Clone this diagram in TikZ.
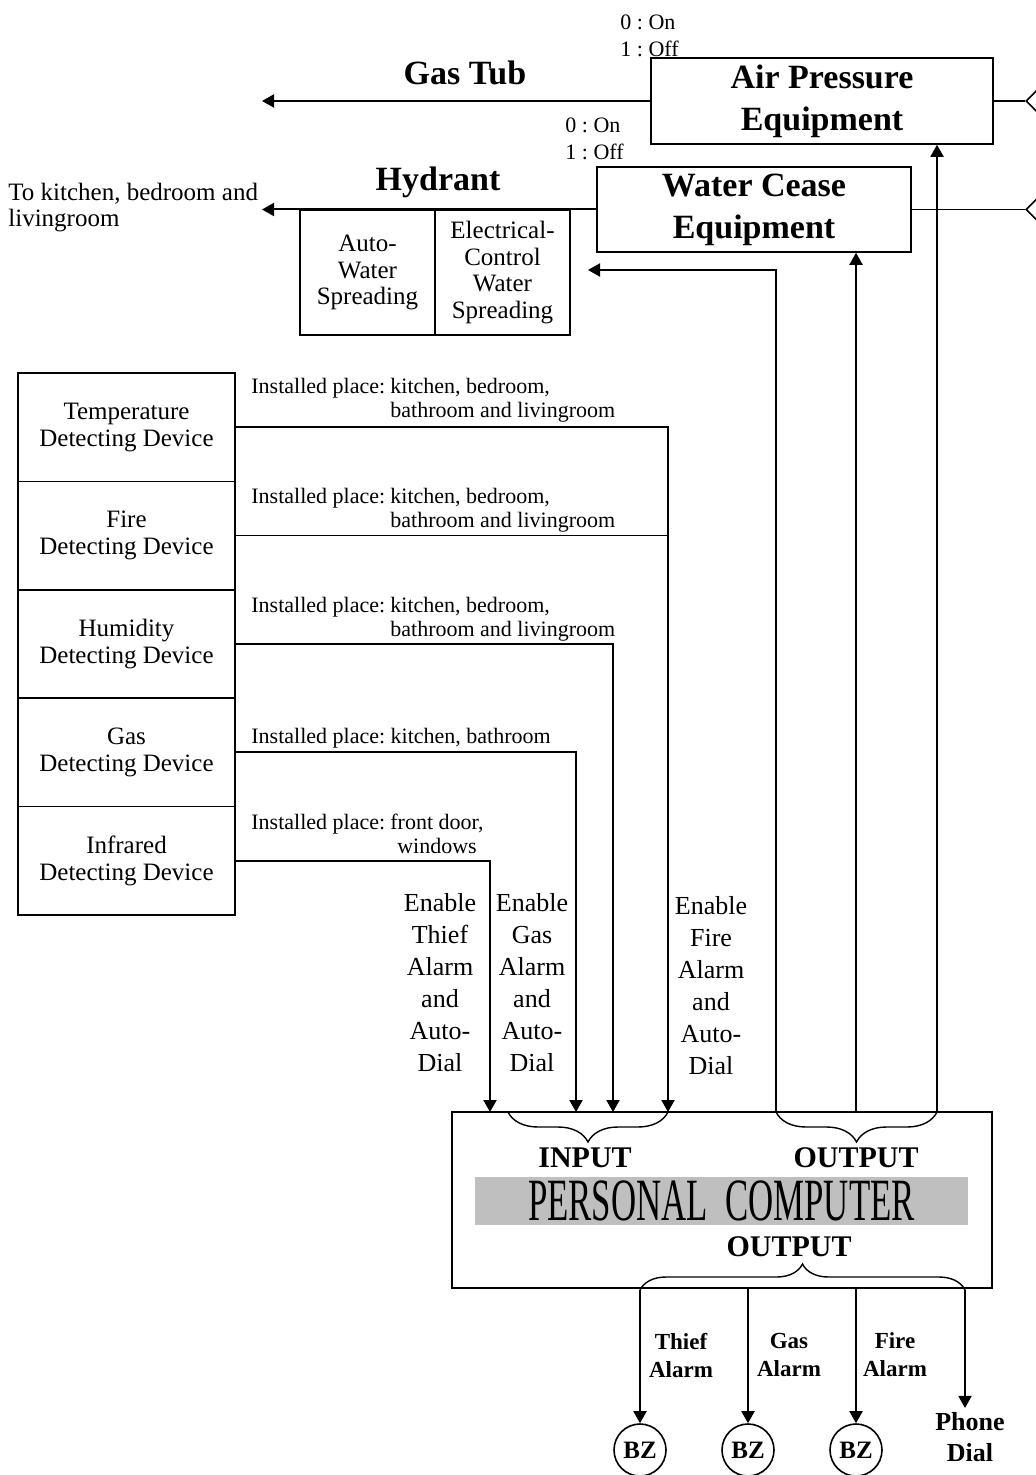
\documentclass[tikz,border=0pt]{standalone}
\usepackage{fontspec}
\setmainfont{Liberation Serif}
\usetikzlibrary{arrows.meta,shapes.geometric,decorations.pathreplacing}
\frenchspacing
\newcommand\fDev{\fontsize{12.5}{13.5}\selectfont}
\newcommand\fHyd{\fontsize{12.5}{13.25}\selectfont}
\newcommand\fInst{\fontsize{11}{12}\selectfont}
\newcommand\fEn{\fontsize{13}{16}\selectfont}
\newcommand\fTitle{\fontsize{17}{21}\selectfont\bfseries}
\newcommand\fIO{\fontsize{15}{17}\selectfont\bfseries}
\newcommand\fAl{\fontsize{11.5}{14}\selectfont\bfseries}
\newcommand\fPh{\fontsize{13}{15.5}\selectfont\bfseries}
\newcommand\fBZ{\fontsize{12.5}{13}\selectfont\bfseries}
\newcommand\fOn{\fontsize{11}{13.5}\selectfont}
\newcommand\fKit{\fontsize{12.5}{13}\selectfont}
\begin{document}
\begin{tikzpicture}[x=0.5pt,y=-0.5pt,
  box/.style={draw,line width=0.8pt,inner sep=0pt,align=center},
  devbox/.style={box,minimum width=108.5pt,minimum height=54.2pt,font=\fDev},
  hydbox/.style={box,minimum width=67.5pt,minimum height=62.5pt,font=\fHyd},
  arr/.style={line width=1pt,-{Triangle[length=6pt,width=6.5pt]}},
  ln/.style={line width=0.8pt},
  diam/.style={draw,diamond,minimum size=20pt,inner sep=0pt,line width=0.8pt},
  bz/.style={draw,circle,minimum size=26pt,inner sep=0pt,line width=0.8pt,font=\fBZ},
  lbl/.style={inner sep=0pt,align=center},
  brc/.style={decorate,line width=0.7pt},
]
\useasboundingbox (0,0) rectangle (1036,1475);

% top equipment
\node[box,minimum width=171pt,minimum height=43pt,font=\fTitle] (ap) at (822,101) {Air Pressure\\Equipment};
\node[box,minimum width=157pt,minimum height=42.5pt,font=\fTitle] (wc) at (754,209.5) {Water Cease\\Equipment};
\node[diam] (d1) at (1046,101) {};
\node[diam] (d2) at (1046,209.5) {};
\node[lbl,anchor=west,align=left,font=\fOn] (on1) at (620,35.5) {0 : On\\1 : Off};
\node[lbl,anchor=west,align=left,font=\fOn] (on2) at (565,138.5) {0 : On\\1 : Off};

\coordinate (gt) at (262,101);
\draw[arr] (ap.west) -- (gt);
\node[lbl,font=\fTitle] (gtl) at (465,73) {Gas Tub};
\draw[ln] (ap.east) -- (d1.west);

\coordinate (hy) at (262,209.5);
\draw[arr] (wc.west) -- (hy);
\node[lbl,font=\fTitle] (hyl) at (438,182) {Hydrant};
\draw[ln] (wc.east) -- (d2.west);
\node[lbl,anchor=west,align=left,font=\fKit] (kit) at (8,208) {To kitchen, bedroom and\\livingroom};

\node[hydbox] (aws) at (367.5,272.5) {Auto-\\Water\\Spreading};
\node[hydbox] (ecw) at (502.5,272.5) {Electrical-\\Control\\Water\\Spreading};

% devices
\node[devbox] (temp) at (126.5,427.2) {Temperature\\Detecting Device};
\node[devbox] (fire) at (126.5,535.6) {Fire\\Detecting Device};
\node[devbox] (hum)  at (126.5,644.0) {Humidity\\Detecting Device};
\node[devbox] (gas)  at (126.5,752.4) {Gas\\Detecting Device};
\node[devbox] (ir)   at (126.5,860.8) {Infrared\\Detecting Device};

\node[lbl,anchor=base west,font=\fInst] (p1) at (251,394) {Installed place:\hspace{2.6pt}\begin{tabular}[t]{@{}l@{}}kitchen, bedroom,\\bathroom and livingroom\end{tabular}};
\node[lbl,anchor=base west,font=\fInst] (p2) at (251,503) {Installed place:\hspace{2.6pt}\begin{tabular}[t]{@{}l@{}}kitchen, bedroom,\\bathroom and livingroom\end{tabular}};
\node[lbl,anchor=base west,font=\fInst] (p3) at (251,612) {Installed place:\hspace{2.6pt}\begin{tabular}[t]{@{}l@{}}kitchen, bedroom,\\bathroom and livingroom\end{tabular}};
\node[lbl,anchor=base west,font=\fInst] (p4) at (251,743) {Installed place: kitchen, bathroom};
\node[lbl,anchor=base west,font=\fInst] (p5) at (251,829) {Installed place:\hspace{2.6pt}\begin{tabular}[t]{@{}c@{}}front door,\\windows\end{tabular}};

% PC
\node[box,minimum width=270pt,minimum height=88pt] (pc) at (722,1200) {};
\node[fill=gray!50,minimum width=246.5pt,minimum height=24pt,inner sep=0pt] (band) at (721.5,1201)
  {\scalebox{0.58}[1]{\fontsize{30}{30}\selectfont PERSONAL\ \ COMPUTER}};
\node[lbl,font=\fIO] (inp) at (585,1158) {INPUT};
\node[lbl,font=\fIO] (out1) at (856,1158) {OUTPUT};
\node[lbl,font=\fIO] (out2) at (789,1247) {OUTPUT};

% inputs
\coordinate (i1) at (490,1112);
\coordinate (i2) at (576,1112);
\coordinate (i3) at (613,1112);
\coordinate (i4) at (668,1112);
\draw[arr] (temp.east) -| (i4);
\draw[ln] (fire.east) -- (fire.east -| i4);
\draw[arr] (hum.east) -| (i3);
\draw[arr] (gas.east) -| (i2);
\draw[arr] (ir.east) -| (i1);
\coordinate (ib1) at (508,1112);
\draw[brc,decoration={brace,mirror,amplitude=15pt}] (ib1) -- (i4);

\node[lbl,font=\fEn] (en1) at (440,983) {Enable\\Thief\\Alarm\\and\\Auto-\\Dial};
\node[lbl,font=\fEn] (en2) at (532,983) {Enable\\Gas\\Alarm\\and\\Auto-\\Dial};
\node[lbl,font=\fEn] (en3) at (711,985.5) {Enable\\Fire\\Alarm\\and\\Auto-\\Dial};

% outputs up
\coordinate (o1) at (776,1112);
\coordinate (o2) at (856,1112);
\coordinate (o3) at (937,1112);
\coordinate (wcin) at (588,270);
\draw[arr] (o1) |- (wcin);
\draw[arr] (o2) -- (o2 |- wc.south);
\draw[arr] (o3) -- (o3 |- ap.south);
\draw[brc,decoration={brace,mirror,amplitude=15pt}] (o1) -- (o3);

% outputs down
\coordinate (b1) at (640,1290);
\coordinate (b2) at (748,1288);
\coordinate (b3) at (856,1288);
\coordinate (b4) at (965,1290);
\draw[brc,decoration={brace,amplitude=13pt}] (b1) -- (b4);
\node[bz] (z1) at (640,1450) {BZ};
\node[bz] (z2) at (748,1450) {BZ};
\node[bz] (z3) at (856,1450) {BZ};
\node[lbl,font=\fPh,inner sep=2pt] (ph) at (970,1437) {Phone\\Dial};
\draw[arr] (b1) -- (z1.north);
\draw[arr] (b2) -- (z2.north);
\draw[arr] (b3) -- (z3.north);
\draw[arr] (b4) -- (b4 |- ph.north);
\node[lbl,font=\fAl] (a1) at (681,1355) {Thief\\Alarm};
\node[lbl,font=\fAl] (a2) at (789,1355) {Gas\\Alarm};
\node[lbl,font=\fAl] (a3) at (895,1355) {Fire\\Alarm};
\end{tikzpicture}
\end{document}
